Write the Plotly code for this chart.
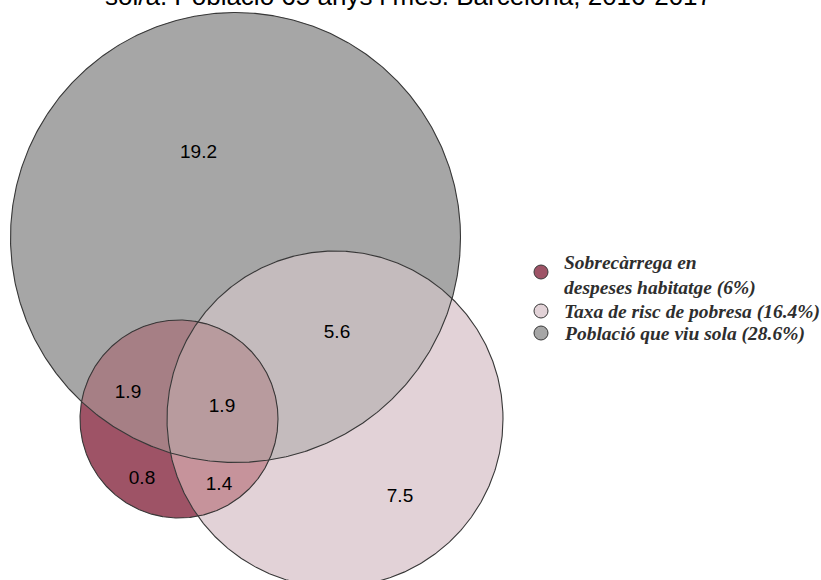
import numpy as np
import plotly.graph_objects as go

# ---------------- data ----------------
set_keys = ["D", "P", "G"]
set_names = ["Sobrecàrrega en<br>despeses habitatge", "Taxa de risc de pobresa", "Població que viu sola"]
set_pct = [6, 16.4, 28.6]

region_values = [19.2, 5.6, 7.5, 1.9, 1.9, 0.8, 1.4]
region_sets = [("G",), ("G", "P"), ("P",), ("G", "D"), ("G", "P", "D"), ("D",), ("P", "D")]

title_text = "sol/a. Població 65 anys i més. Barcelona, 2016-2017"

# ---------------- layout geometry (pixel space) ----------------
circles = {"G": (235.5, 237.5, 225.0), "P": (335.0, 419.0, 168.0), "D": (179.0, 419.0, 99.0)}
label_pos = [(198.5, 153), (337, 333), (400, 497), (128, 393), (222, 407), (142, 479), (219, 485)]

layer_sets = [("G",), ("P",), ("G", "P"), ("D",), ("G", "D"), ("P", "D"), ("G", "P", "D")]
layer_colors = ["#a6a6a6", "#e2d2d7", "#c4bbbd", "#9e5366", "#a67f85", "#c6939b", "#b89b9e"]
set_colors = {"G": "#a6a6a6", "P": "#e2d2d7", "D": "#9e5366"}
outline = "#383838"

legend_marker_x = 541
legend_text_x = 562
legend_marker_y = [272, 311, 333]
legend_text_y = [275.5, 312, 334]


def inside(px, py, key, tol=1e-6):
    cx, cy, r = circles[key]
    return (px - cx) ** 2 + (py - cy) ** 2 <= r * r + tol


def intersection_polygon(keys, n=1440):
    xs, ys = [], []
    t = np.linspace(0, 2 * np.pi, n, endpoint=False)
    for k in keys:
        cx, cy, r = circles[k]
        x = cx + r * np.cos(t)
        y = cy + r * np.sin(t)
        m = np.ones(n, dtype=bool)
        for o in keys:
            if o != k:
                m &= inside(x, y, o)
        xs.append(x[m])
        ys.append(y[m])
    for i in range(len(keys)):
        for j in range(i + 1, len(keys)):
            x1, y1, r1 = circles[keys[i]]
            x2, y2, r2 = circles[keys[j]]
            d = np.hypot(x2 - x1, y2 - y1)
            if d > r1 + r2 or d < abs(r1 - r2):
                continue
            a = (r1 ** 2 - r2 ** 2 + d ** 2) / (2 * d)
            h = np.sqrt(max(r1 ** 2 - a ** 2, 0))
            xm = x1 + a * (x2 - x1) / d
            ym = y1 + a * (y2 - y1) / d
            for s in (1, -1):
                px = xm + s * h * (y2 - y1) / d
                py = ym - s * h * (x2 - x1) / d
                if all(inside(px, py, o, 1e-3) for o in keys):
                    xs.append(np.array([px]))
                    ys.append(np.array([py]))
    x = np.concatenate(xs)
    y = np.concatenate(ys)
    cx, cy = x.mean(), y.mean()
    order = np.argsort(np.arctan2(y - cy, x - cx))
    x, y = x[order], y[order]
    return np.append(x, x[0]), np.append(y, y[0])


fig = go.Figure()

for keys, col in zip(layer_sets, layer_colors):
    x, y = intersection_polygon(keys)
    fig.add_trace(go.Scatter(x=x, y=y, mode="none", fill="toself", fillcolor=col,
                             hoverinfo="skip", showlegend=False))

tt = np.linspace(0, 2 * np.pi, 721)
for k in ["G", "P", "D"]:
    cx, cy, r = circles[k]
    fig.add_trace(go.Scatter(x=cx + r * np.cos(tt), y=cy + r * np.sin(tt), mode="lines",
                             line=dict(color=outline, width=1.1), hoverinfo="skip", showlegend=False))

# region labels
fig.add_trace(go.Scatter(
    x=[p[0] for p in label_pos], y=[p[1] for p in label_pos], mode="text",
    text=[f"{v:.1f}" for v in region_values],
    textfont=dict(family="Liberation Sans, Arial", size=19, color="#000000"),
    hoverinfo="skip", showlegend=False))

# legend markers
for k, my in zip(set_keys, legend_marker_y):
    fig.add_trace(go.Scatter(x=[legend_marker_x], y=[my], mode="markers",
                             marker=dict(size=14, color=set_colors[k], line=dict(color=outline, width=1)),
                             hoverinfo="skip", showlegend=False))

annotations = []
for name, pct, ty in zip(set_names, set_pct, legend_text_y):
    annotations.append(dict(
        x=legend_text_x, y=ty, xref="x", yref="y", xanchor="left", yanchor="middle",
        text=f"<b><i>{name} ({pct:g}%)</i></b>", showarrow=False, align="left",
        font=dict(family="Liberation Serif, Times New Roman", size=19.5, color="#2e2e2e")))

annotations.append(dict(
    x=408.5 / 821, y=1, xref="paper", yref="paper", xanchor="center", yanchor="middle",
    yshift=4, text=title_text, showarrow=False,
    font=dict(family="Liberation Sans, Arial", size=26, color="#000000")))

fig.update_layout(
    width=821, height=580,
    margin=dict(l=0, r=0, t=0, b=0),
    paper_bgcolor="white", plot_bgcolor="white",
    xaxis=dict(range=[0, 821], visible=False, fixedrange=True),
    yaxis=dict(range=[580, 0], visible=False, fixedrange=True),
    annotations=annotations,
    showlegend=False,
)

fig.write_html("out.html", config={"displayModeBar": False},
               post_script="document.body.style.margin='0';")
